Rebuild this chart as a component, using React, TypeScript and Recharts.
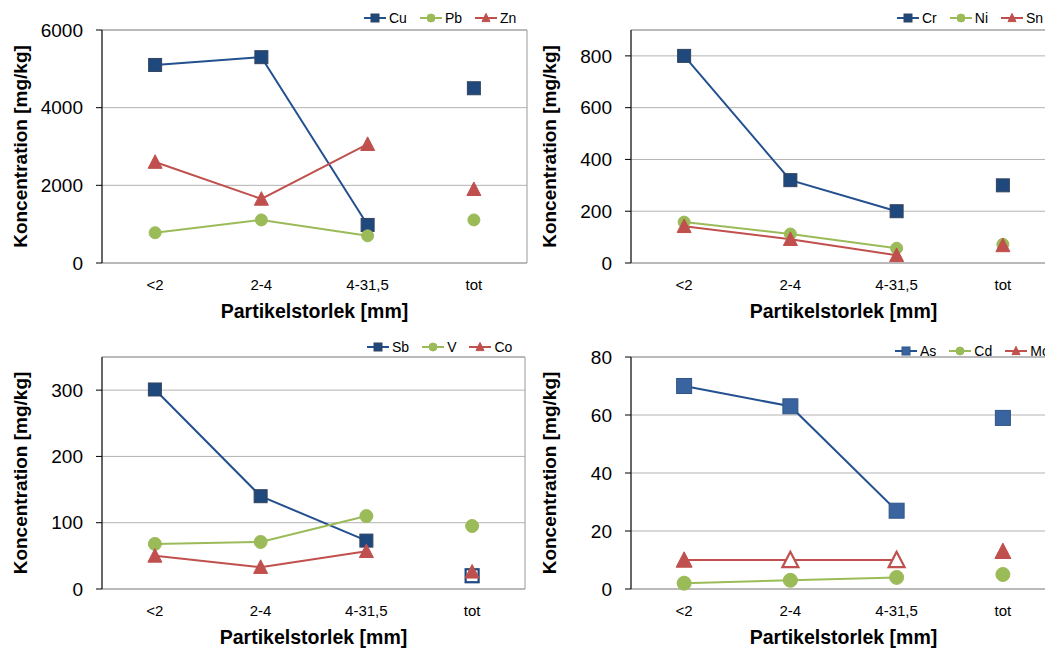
import React from "react";
import { LineChart, Line, XAxis, YAxis, CartesianGrid, ReferenceArea } from "recharts";

const categories = ["<2", "2-4", "4-31,5", "tot"];

// panel 1
const cuValues = [5100, 5300, 980, 4500];
const pbValues = [780, 1110, 700, 1110];
const znValues = [2600, 1650, 3060, 1900];
const yTicks1 = [0, 2000, 4000, 6000];

// panel 2
const crValues = [800, 320, 200, 300];
const niValues = [158, 112, 57, 72];
const snValues = [142, 92, 30, 68];
const yTicks2 = [0, 200, 400, 600, 800];

// panel 3
const sbValues = [301, 140, 73, 20];
const vValues = [68, 71, 110, 95];
const coValues = [50, 33, 57, 26];
const sbHollow = [false, false, false, true];
const yTicks3 = [0, 100, 200, 300];

// panel 4
const asValues = [70, 63, 27, 59];
const cdValues = [2, 3, 4, 5];
const moValues = [10, 10, 10, 13];
const moHollow = [false, true, true, false];
const yTicks4 = [0, 20, 40, 60, 80];

const FONT = "'Liberation Sans', Arial, sans-serif";
const BLUE_LINE = "#23508f";
const BLUE_FILL = "#1f497d";
const BLUE_FILL_LIGHT = "#3a64a0";
const GREEN = "#9bbb59";
const RED = "#c0504d";

type Shape = "square" | "circle" | "triangle";

interface Series {
  name: string;
  values: number[];
  line: string;
  fill: string;
  edge: string;
  shape: Shape;
  size: number;
  hollow?: boolean[];
}

function Marker({ cx, cy, shape, size, fill, edge, hollow }: any) {
  if (cx == null || cy == null || isNaN(cx) || isNaN(cy)) return null;
  const h = size / 2;
  const f = hollow ? "#fff" : fill;
  const sw = hollow ? 2.2 : 1;
  const st = hollow ? fill : edge;
  if (shape === "square") {
    return <rect x={cx - h} y={cy - h} width={size} height={size} fill={f} stroke={st} strokeWidth={sw} />;
  }
  if (shape === "circle") {
    return <circle cx={cx} cy={cy} r={h} fill={f} stroke={st} strokeWidth={sw} />;
  }
  const t = size * 0.45;
  return (
    <polygon
      points={`${cx},${cy - t - 1} ${cx - h},${cy + t} ${cx + h},${cy + t}`}
      fill={f}
      stroke={st}
      strokeWidth={sw}
      strokeLinejoin="miter"
    />
  );
}

function buildRows(series: Series[]) {
  return categories.map((cat, i) => {
    const row: Record<string, any> = { x: i + 0.5, cat };
    series.forEach((s) => {
      row[s.name] = i < 3 ? s.values[i] : null;
      row[s.name + "_tot"] = i === 3 ? s.values[i] : null;
    });
    return row;
  });
}

function YTitle(props: any) {
  const vb = props.viewBox || { x: 0, y: 0, width: 0, height: 0 };
  const x = vb.x + 20;
  const y = vb.y + vb.height / 2;
  return (
    <text
      x={x}
      y={y}
      transform={`rotate(-90, ${x}, ${y})`}
      textAnchor="middle"
      dominantBaseline="central"
      fontFamily={FONT}
      fontWeight="bold"
      fontSize={19}
      fill="#000"
    >
      Koncentration [mg/kg]
    </text>
  );
}

function XTitle(props: any) {
  const vb = props.viewBox || { x: 0, y: 0, width: 0, height: 0 };
  return (
    <text
      x={vb.x + vb.width / 2}
      y={vb.y + 48}
      textAnchor="middle"
      dominantBaseline="central"
      fontFamily={FONT}
      fontWeight="bold"
      fontSize={19.5}
      fill="#000"
    >
      Partikelstorlek [mm]
    </text>
  );
}

function LegendRow({ series, left, top }: { series: Series[]; left: number; top: number }) {
  return (
    <div
      style={{
        position: "absolute",
        left,
        top,
        display: "flex",
        alignItems: "center",
        gap: 13,
        fontFamily: FONT,
        fontSize: 14,
        whiteSpace: "nowrap",
        lineHeight: "16px",
      }}
    >
      {series.map((s) => (
        <div key={s.name} style={{ display: "flex", alignItems: "center" }}>
          <svg width={22} height={12}>
            <line x1={0} x2={22} y1={6} y2={6} stroke={s.line} strokeWidth={2} />
            <Marker cx={11} cy={6} shape={s.shape} size={8} fill={s.fill} edge={s.edge} />
          </svg>
          <span style={{ marginLeft: 3 }}>{s.name}</span>
        </div>
      ))}
    </div>
  );
}

interface PanelProps {
  series: Series[];
  yMax: number;
  yTicks: number[];
  left: number;
  top: number;
  rightMargin: number;
  height: number;
  legendLeft: number;
  legendTop: number;
}

function Panel({ series, yMax, yTicks, left, top, rightMargin, height, legendLeft, legendTop }: PanelProps) {
  const rows = buildRows(series);
  const dotFor = (s: Series) => (p: any) => (
    <Marker
      key={`${s.name}-${p.index}`}
      cx={p.cx}
      cy={p.value == null ? null : p.cy}
      shape={s.shape}
      size={s.size}
      fill={s.fill}
      edge={s.edge}
      hollow={s.hollow ? s.hollow[p.index] : false}
    />
  );
  return (
    <div style={{ position: "absolute", left, top }}>
      <LineChart width={540} height={height} data={rows} margin={{ top: 30, right: rightMargin, left: 0, bottom: 7 }}>
        <XAxis
          xAxisId="grid"
          dataKey="x"
          type="number"
          domain={[0, 4]}
          ticks={[0, 1, 2, 3, 4]}
          tick={false}
          tickSize={5}
          height={0}
          axisLine={{ stroke: "#000" }}
          tickLine={{ stroke: "#000" }}
        />
        <XAxis
          dataKey="x"
          type="number"
          domain={[0, 4]}
          ticks={[0.5, 1.5, 2.5, 3.5]}
          tickFormatter={(v: number) => categories[Math.floor(v)]}
          interval={0}
          axisLine={false}
          tickLine={false}
          tickSize={6}
          tickMargin={10}
          height={60}
          tick={{ fontSize: 15, fill: "#000", fontFamily: FONT }}
          label={<XTitle />}
        />
        <YAxis
          domain={[0, yMax]}
          ticks={yTicks}
          interval={0}
          width={102}
          tickSize={6}
          tickMargin={13}
          axisLine={{ stroke: "#000" }}
          tickLine={{ stroke: "#000" }}
          tick={{ fontSize: 19, fill: "#000", fontFamily: FONT }}
          label={<YTitle />}
        />
        <CartesianGrid vertical={false} stroke="#b3b3b3" />
        <ReferenceArea x1={0} x2={4} y1={0} y2={yMax} fill="none" stroke="#9a9a9a" strokeOpacity={1} />
        {series.map((s) => (
          <Line
            key={s.name}
            dataKey={s.name}
            stroke={s.line}
            strokeWidth={2}
            dot={dotFor(s)}
            activeDot={false}
            isAnimationActive={false}
          />
        ))}
        {series.map((s) => (
          <Line
            key={s.name + "_tot"}
            dataKey={s.name + "_tot"}
            stroke="none"
            dot={dotFor(s)}
            activeDot={false}
            isAnimationActive={false}
          />
        ))}
      </LineChart>
      <LegendRow series={series} left={legendLeft} top={legendTop} />
    </div>
  );
}

const series1: Series[] = [
  { name: "Cu", values: cuValues, line: BLUE_LINE, fill: BLUE_FILL, edge: "#33435e", shape: "square", size: 13 },
  { name: "Pb", values: pbValues, line: GREEN, fill: GREEN, edge: GREEN, shape: "circle", size: 12 },
  { name: "Zn", values: znValues, line: RED, fill: RED, edge: RED, shape: "triangle", size: 14 },
];
const series2: Series[] = [
  { name: "Cr", values: crValues, line: BLUE_LINE, fill: BLUE_FILL, edge: "#33435e", shape: "square", size: 13 },
  { name: "Ni", values: niValues, line: GREEN, fill: GREEN, edge: GREEN, shape: "circle", size: 12 },
  { name: "Sn", values: snValues, line: RED, fill: RED, edge: RED, shape: "triangle", size: 14 },
];
const series3: Series[] = [
  { name: "Sb", values: sbValues, line: BLUE_LINE, fill: BLUE_FILL, edge: "#33435e", shape: "square", size: 13, hollow: sbHollow },
  { name: "V", values: vValues, line: GREEN, fill: GREEN, edge: GREEN, shape: "circle", size: 13 },
  { name: "Co", values: coValues, line: RED, fill: RED, edge: RED, shape: "triangle", size: 14 },
];
const series4: Series[] = [
  { name: "As", values: asValues, line: BLUE_LINE, fill: BLUE_FILL_LIGHT, edge: "#2f5587", shape: "square", size: 15 },
  { name: "Cd", values: cdValues, line: GREEN, fill: GREEN, edge: GREEN, shape: "circle", size: 14 },
  { name: "Mo", values: moValues, line: RED, fill: RED, edge: RED, shape: "triangle", size: 16, hollow: moHollow },
];

export default function App() {
  return (
    <div
      style={{
        position: "fixed",
        left: 0,
        top: 0,
        width: 1045,
        height: 650,
        overflow: "hidden",
        background: "#fff",
        fontFamily: FONT,
      }}
    >
      <Panel series={series1} yMax={6000} yTicks={yTicks1} left={0} top={0} rightMargin={13} height={330} legendLeft={364} legendTop={10} />
      <Panel series={series2} yMax={900} yTicks={yTicks2} left={529} top={0} rightMargin={13} height={330} legendLeft={368} legendTop={10} />
      <Panel series={series3} yMax={350} yTicks={yTicks3} left={0} top={327} rightMargin={15} height={329} legendLeft={367} legendTop={12} />
      <Panel series={series4} yMax={80} yTicks={yTicks4} left={529} top={327} rightMargin={13} height={329} legendLeft={366} legendTop={16} />
    </div>
  );
}
